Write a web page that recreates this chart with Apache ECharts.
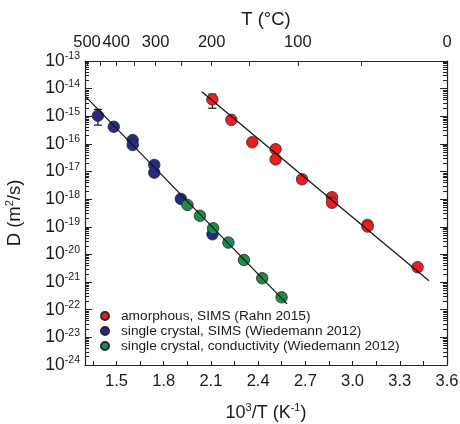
<!DOCTYPE html>
<html><head><meta charset="utf-8">
<script src="https://cdn.jsdelivr.net/npm/echarts@6/dist/echarts.min.js"></script>
<style>html,body{margin:0;padding:0;background:#fff}#c{width:460px;height:424px}</style>
</head><body><div id="c"></div>
<script>
// ---- data (x = 1000/T in K^-1, y = log10 D in m^2/s) ----
const amorphousX    = [2.109, 2.23, 2.363, 2.511, 2.511, 2.679, 2.869, 2.869, 3.095, 3.095, 3.413];
const amorphousLogD = [-14.39, -15.13, -15.94, -16.19, -16.56, -17.28, -17.93, -18.13, -18.93, -18.99, -20.46];
const simsX         = [1.382, 1.483, 1.603, 1.603, 1.740, 1.740, 1.909, 2.11];
const simsLogD      = [-14.98, -15.38, -15.86, -16.04, -16.76, -17.04, -17.99, -19.27];
const condX         = [1.951, 2.03, 2.114, 2.211, 2.31, 2.426, 2.549];
const condLogD      = [-18.21, -18.60, -19.05, -19.57, -20.20, -20.86, -21.55];
const amorphousFitX = [2.042, 3.485];
const amorphousFitY = [-14.11, -20.95];
const crystalFitX   = [1.304, 2.584];
const crystalFitY   = [-14.29, -21.79];
const errX    = [1.382, 2.109];
const errLow  = [-15.32, -14.71];
const errHigh = [-14.75, -14.20];
const seriesNames = ['amorphous, SIMS (Rahn 2015)', 'single crystal, SIMS (Wiedemann 2012)', 'single crystal, conductivity (Wiedemann 2012)'];
const bottomTickLabels = [1.5, 1.8, 2.1, 2.4, 2.7, 3.0, 3.3, 3.6];
const bottomMinorTicks = [1.35, 1.65, 1.95, 2.25, 2.55, 2.85, 3.15, 3.45];
const topTempLabels = [500, 400, 300, 200, 100, 0];
const topTempMinor  = [450, 350, 250, 150, 50];
const yMin = -24, yMax = -13;

const FONT = '"Liberation Sans", Arial, Helvetica, sans-serif';
const TXT = '#1a1a1a';
const toInvT = t => 1000 / (t + 273.15);
const pair = (xs, ys) => xs.map((x, i) => [x, ys[i]]);
const yMinor = [];
for (let n = yMin; n < yMax; n++) for (let k = 2; k <= 9; k++) yMinor.push(n + Math.log10(k));

const axisLine = { show: true, lineStyle: { color: '#222', width: 1.2 } };
const tickStyle = { color: '#222', width: 1 };

const chart = echarts.init(document.getElementById('c'), null, { renderer: 'canvas' });
chart.setOption({
  animation: false,
  backgroundColor: '#fff',
  grid: { left: 85, right: 13, top: 61, bottom: 59, containLabel: false, outerBoundsMode: 'none' },
  legend: {
    orient: 'vertical', left: 100, top: 308.5, padding: 0, itemGap: 0,
    itemWidth: 22, itemHeight: 8, icon: 'circle',
    data: seriesNames,
    textStyle: { fontFamily: FONT, fontSize: 13.7, color: TXT, lineHeight: 15 }
  },
  xAxis: [
    {
      type: 'value', position: 'bottom', min: 1.3, max: 3.6,
      axisLine: axisLine,
      axisTick: { inside: true, length: 4, lineStyle: tickStyle, customValues: bottomTickLabels.concat(bottomMinorTicks) },
      axisLabel: { customValues: bottomTickLabels, formatter: v => v.toFixed(1), fontFamily: FONT, fontSize: 16.5, color: TXT, margin: 8 },
      splitLine: { show: false },
      name: '{a|10}{s|3}{a|/T (K}{s|-1}{a|)}', nameLocation: 'middle', nameGap: 37,
      nameTextStyle: { rich: {
        a: { fontFamily: FONT, fontSize: 18, color: TXT, lineHeight: 22 },
        s: { fontFamily: FONT, fontSize: 11, color: TXT, lineHeight: 14, verticalAlign: 'top' }
      } }
    },
    {
      type: 'value', position: 'top', min: toInvT(500) - 0.013, max: toInvT(0),
      axisLine: axisLine,
      axisTick: { inside: true, length: 5, lineStyle: tickStyle, customValues: topTempLabels.concat(topTempMinor).map(toInvT) },
      axisLabel: { customValues: topTempLabels.map(toInvT), formatter: v => String(Math.round(1000 / v - 273.15)), fontFamily: FONT, fontSize: 16.5, color: TXT, margin: 10 },
      splitLine: { show: false },
      name: 'T (°C)', nameLocation: 'middle', nameGap: 31,
      nameTextStyle: { fontFamily: FONT, fontSize: 18.5, color: TXT }
    }
  ],
  yAxis: [
    {
      type: 'value', position: 'left', min: yMin, max: yMax, interval: 1,
      axisLine: axisLine,
      axisTick: { inside: true, length: 7, lineStyle: tickStyle },
      axisLabel: {
        formatter: v => '{b|10}{s|' + v + '}', margin: 5,
        rich: {
          b: { fontFamily: FONT, fontSize: 17.5, color: TXT, lineHeight: 20 },
          s: { fontFamily: FONT, fontSize: 10.5, color: TXT, lineHeight: 11, verticalAlign: 'top' }
        }
      },
      splitLine: { show: false },
      name: '{a|D (m}{s|2}{a|/s)}', nameLocation: 'middle', nameGap: 59,
      nameTextStyle: { rich: {
        a: { fontFamily: FONT, fontSize: 18.5, color: TXT, lineHeight: 22 },
        s: { fontFamily: FONT, fontSize: 11, color: TXT, lineHeight: 14, verticalAlign: 'top' }
      } }
    },
    {
      type: 'value', position: 'left', min: yMin, max: yMax, interval: 1,
      axisLine: { show: false },
      axisTick: { inside: true, length: 4, lineStyle: tickStyle, customValues: yMinor },
      axisLabel: { show: false }, splitLine: { show: false }
    },
    {
      type: 'value', position: 'right', min: yMin, max: yMax, interval: 1,
      axisLine: axisLine,
      axisTick: { inside: true, length: 7, lineStyle: tickStyle },
      axisLabel: { show: false }, splitLine: { show: false }
    },
    {
      type: 'value', position: 'right', min: yMin, max: yMax, interval: 1,
      axisLine: { show: false },
      axisTick: { inside: true, length: 4, lineStyle: tickStyle, customValues: yMinor },
      axisLabel: { show: false }, splitLine: { show: false }
    }
  ],
  series: [
    {
      type: 'custom', name: 'err', xAxisIndex: 0, yAxisIndex: 0, z: 1,
      data: errX.map((x, i) => [x, errLow[i], errHigh[i]]),
      encode: { x: 0, y: [1, 2] },
      renderItem: (params, api) => {
        const lo = api.coord([api.value(0), api.value(1)]);
        const hi = api.coord([api.value(0), api.value(2)]);
        const w = 4;
        const st = { stroke: '#111', lineWidth: 1.2 };
        return { type: 'group', children: [
          { type: 'line', shape: { x1: lo[0], y1: lo[1], x2: hi[0], y2: hi[1] }, style: st },
          { type: 'line', shape: { x1: lo[0] - w, y1: lo[1], x2: lo[0] + w, y2: lo[1] }, style: st },
          { type: 'line', shape: { x1: hi[0] - w, y1: hi[1], x2: hi[0] + w, y2: hi[1] }, style: st }
        ] };
      }
    },
    {
      type: 'scatter', name: seriesNames[0], z: 3, symbolSize: 11.5,
      itemStyle: { color: '#f01c22', borderColor: '#2a2a2a', borderWidth: 0.8, opacity: 1 },
      data: pair(amorphousX, amorphousLogD)
    },
    {
      type: 'scatter', name: seriesNames[1], z: 3, symbolSize: 11.5,
      itemStyle: { color: '#262a80', borderColor: '#2a2a2a', borderWidth: 0.8, opacity: 1 },
      data: pair(simsX, simsLogD)
    },
    {
      type: 'scatter', name: seriesNames[2], z: 3, symbolSize: 11.5,
      itemStyle: { color: '#1a8c4c', borderColor: '#2a2a2a', borderWidth: 0.8, opacity: 1 },
      data: pair(condX, condLogD)
    },
    {
      type: 'line', name: 'fitA', z: 4, symbol: 'none', silent: true,
      lineStyle: { color: '#111', width: 1.2 },
      data: pair(amorphousFitX, amorphousFitY)
    },
    {
      type: 'line', name: 'fitC', z: 4, symbol: 'none', silent: true,
      lineStyle: { color: '#111', width: 1.2 },
      data: pair(crystalFitX, crystalFitY)
    }
  ]
});
</script>
</body></html>
